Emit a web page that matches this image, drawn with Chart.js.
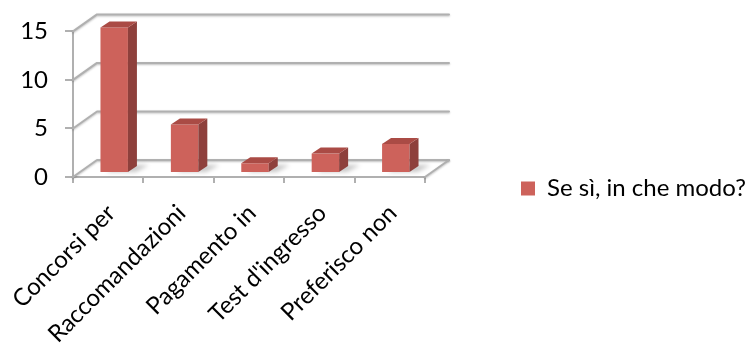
<!DOCTYPE html>
<html>
<head>
<meta charset="utf-8">
<script src="https://cdn.jsdelivr.net/npm/chart.js@4"></script>
<style>
  html, body { margin: 0; padding: 0; background: #ffffff; }
  #wrap { width: 755px; height: 347px; }
</style>
</head>
<body>
<div id="wrap"><canvas id="c" width="755" height="347"></canvas></div>
<script>
// Survey answers
const categories = ["Concorsi per", "Raccomandazioni", "Pagamento in", "Test d'ingresso", "Preferisco non"];
const seriesName = "Se sì, in che modo?";
const values = [15, 5, 1, 2, 3];
const yTicks = [0, 5, 10, 15];

// 3D look
const WALL_DX = 24, WALL_DY = -17;     // depth of the floor / back wall
const BAR_SHIFT_X = 6, BAR_SHIFT_Y = -4; // bars sit a little inside the floor
const BAR_DX = 9, BAR_DY = -6;         // depth of each bar
const FRONT = '#cd625b', TOP = '#aa4b45', SIDE = '#8e403c';
const GRID = '#b0b0b0';
const LEGEND_W = 330;
const FONT = 'Lato, "Open Sans", sans-serif';

const depth3d = {
  id: 'depth3d',
  afterInit(chart) {
    const lg = chart.legend;
    if (lg) {
      const fit = lg.fit.bind(lg);
      lg.fit = function () { fit(); this.width = LEGEND_W; };
    }
  },
  beforeDatasetsDraw(chart) {
    const { ctx, chartArea: { left, right }, scales: { y } } = chart;
    ctx.save();
    ctx.lineCap = 'round';
    ctx.lineJoin = 'round';
    ctx.strokeStyle = GRID;
    ctx.lineWidth = 2;
    ctx.shadowColor = 'rgba(0,0,0,0.25)';
    ctx.shadowBlur = 2;
    ctx.shadowOffsetY = 1;
    yTicks.forEach(v => {
      const py = y.getPixelForValue(v);
      ctx.beginPath();
      ctx.moveTo(left, py);
      ctx.lineTo(left + WALL_DX, py + WALL_DY);
      ctx.lineTo(right + WALL_DX, py + WALL_DY);
      ctx.stroke();
    });
    const p0 = y.getPixelForValue(0);
    ctx.beginPath();
    ctx.moveTo(right, p0);
    ctx.lineTo(right + WALL_DX, p0 + WALL_DY);
    ctx.stroke();
    ctx.restore();

    // bars are drawn a little back on the floor
    ctx.save();
    ctx.translate(BAR_SHIFT_X, BAR_SHIFT_Y);

    // soft floor shadow behind each bar
    ctx.save();
    ctx.filter = 'blur(2px)';
    ctx.fillStyle = 'rgba(0,0,0,0.22)';
    chart.getDatasetMeta(0).data.forEach(bar => {
      const { x, base, width } = bar.getProps(['x', 'base', 'width'], true);
      const l = x - width / 2, r = x + width / 2;
      ctx.beginPath();
      ctx.moveTo(l + 6, base);
      ctx.lineTo(r + 8, base);
      ctx.lineTo(r + BAR_DX + 12, base + BAR_DY - 1);
      ctx.lineTo(l + BAR_DX + 6, base + BAR_DY - 1);
      ctx.closePath();
      ctx.fill();
    });
    ctx.restore();
  },
  afterDatasetsDraw(chart) {
    const ctx = chart.ctx;
    chart.getDatasetMeta(0).data.forEach(bar => {
      const { x, y, base, width } = bar.getProps(['x', 'y', 'base', 'width'], true);
      const l = x - width / 2, r = x + width / 2;
      ctx.fillStyle = SIDE;
      ctx.beginPath();
      ctx.moveTo(r, y);
      ctx.lineTo(r + BAR_DX, y + BAR_DY);
      ctx.lineTo(r + BAR_DX, base + BAR_DY);
      ctx.lineTo(r, base);
      ctx.closePath();
      ctx.fill();
      ctx.fillStyle = TOP;
      ctx.beginPath();
      ctx.moveTo(l, y);
      ctx.lineTo(r, y);
      ctx.lineTo(r + BAR_DX, y + BAR_DY);
      ctx.lineTo(l + BAR_DX, y + BAR_DY);
      ctx.closePath();
      ctx.fill();
    });
    ctx.restore();
  }
};

new Chart(document.getElementById('c'), {
  type: 'bar',
  data: {
    labels: categories,
    datasets: [{
      label: seriesName,
      data: values,
      backgroundColor: FRONT,
      borderWidth: 0,
      barPercentage: 0.39,
      categoryPercentage: 1,
      clip: false
    }]
  },
  options: {
    responsive: false,
    animation: false,
    devicePixelRatio: 1,
    layout: { padding: { top: 30, left: 0, right: 0, bottom: 0 } },
    plugins: {
      tooltip: { enabled: false },
      legend: {
        position: 'right',
        labels: {
          boxWidth: 14,
          boxHeight: 14,
          padding: 96,
          color: '#000',
          font: { family: FONT, size: 24 }
        }
      }
    },
    scales: {
      x: {
        afterFit(s) {
          s.height = 170;
          s.paddingLeft = 0;
          s.paddingRight = 0;
        },
        grid: { display: true, drawOnChartArea: false, drawTicks: true, tickLength: 6, color: GRID, lineWidth: 2, offset: true },
        border: { display: true, color: GRID, width: 2 },
        ticks: {
          minRotation: 45, maxRotation: 45, autoSkip: false,
          color: '#000',
          font: { family: FONT, size: 24 },
          padding: 16,
          labelOffset: 3
        }
      },
      y: {
        min: 0, max: 15,
        afterFit(s) { s.width = 73; },
        afterBuildTicks(s) { s.ticks = yTicks.map(v => ({ value: v })); },
        grid: { display: true, drawOnChartArea: false, drawTicks: true, tickLength: 8, color: GRID, lineWidth: 2 },
        border: { display: true, color: GRID, width: 2 },
        ticks: {
          color: '#000',
          font: { family: FONT, size: 24 },
          padding: 17
        }
      }
    }
  },
  plugins: [depth3d]
});
</script>
</body>
</html>
